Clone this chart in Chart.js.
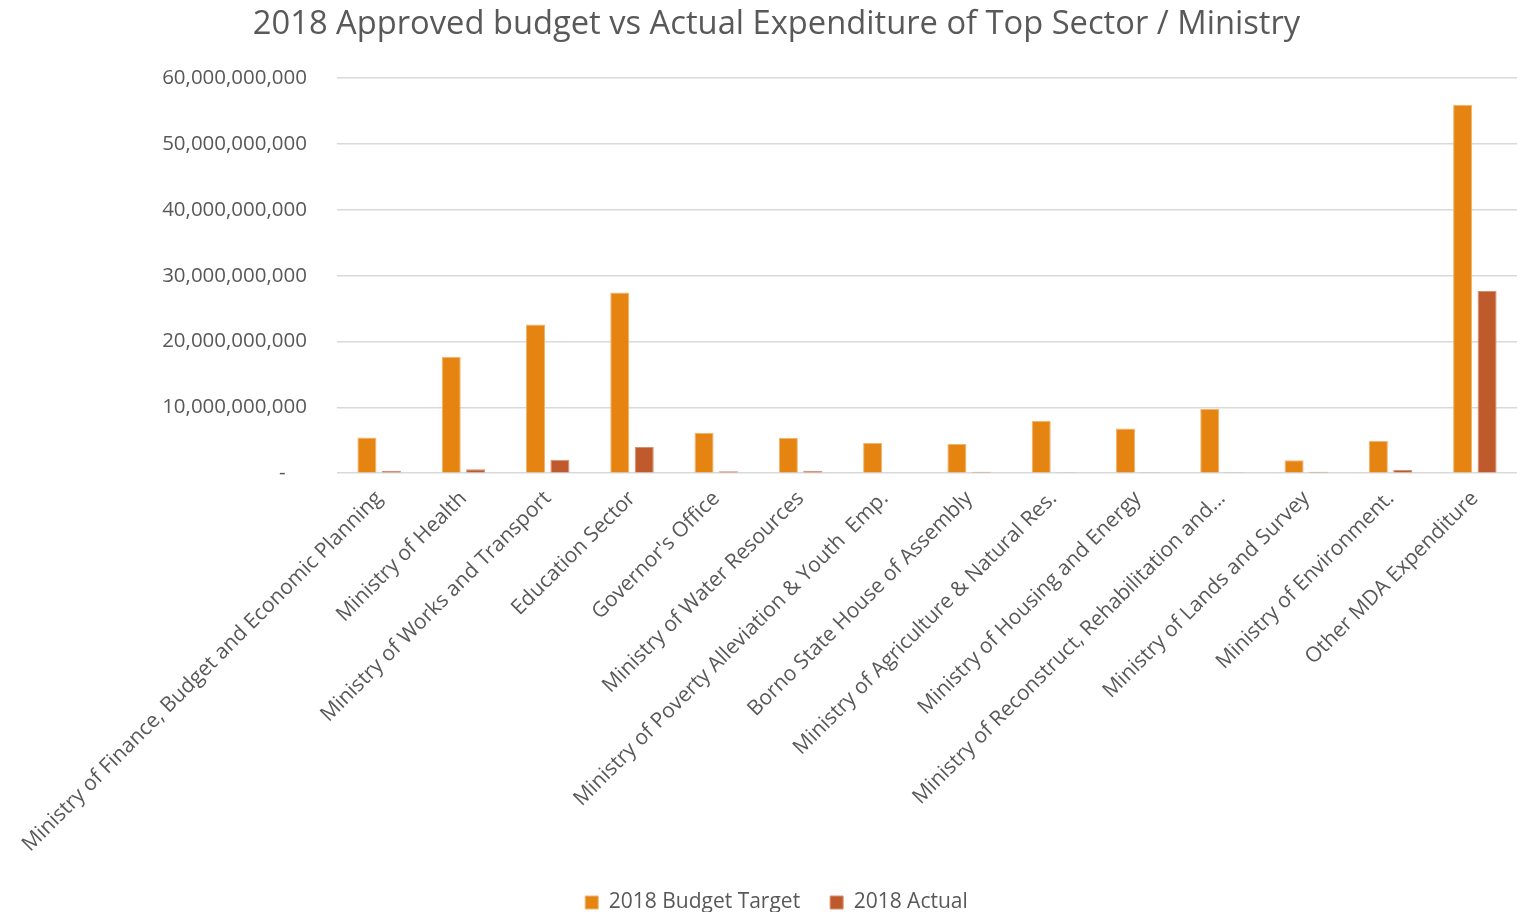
<!DOCTYPE html>
<html>
<head>
<meta charset="utf-8">
<script src="https://cdn.jsdelivr.net/npm/chart.js@4"></script>
<style>
  html, body { margin: 0; padding: 0; background: #fff; }
  #wrap { width: 1518px; height: 912px; }
</style>
</head>
<body>
<div id="wrap"><canvas id="chart"></canvas></div>
<script>
const sectors = [
  "Ministry of Finance, Budget and Economic Planning",
  "Ministry of Health",
  "Ministry of Works and Transport",
  "Education Sector",
  "Governor's Office",
  "Ministry of Water Resources",
  "Ministry of Poverty Alleviation & Youth  Emp.",
  "Borno State House of Assembly",
  "Ministry of Agriculture & Natural Res.",
  "Ministry of Housing and Energy",
  "Ministry of Reconstruct, Rehabilitation and...",
  "Ministry of Lands and Survey",
  "Ministry of Environment.",
  "Other MDA Expenditure"
];

const budgetTarget = [
  5430000000, 17660000000, 22600000000, 27450000000, 6130000000,
  5370000000, 4600000000, 4450000000, 7960000000, 6800000000,
  9740000000, 1980000000, 4870000000, 55970000000
];

const actual2018 = [
  370000000, 600000000, 2040000000, 3960000000, 300000000,
  350000000, 0, 200000000, 150000000, 150000000,
  150000000, 200000000, 500000000, 27660000000
];

const yTickValues = [0, 10000000000, 20000000000, 30000000000, 40000000000, 50000000000, 60000000000];

const textColor = "#595959";
const fontFamily = "'Open Sans', sans-serif";

const fmt = new Intl.NumberFormat("en-US");

new Chart(document.getElementById("chart"), {
  type: "bar",
  data: {
    labels: sectors,
    datasets: [
      {
        label: "2018 Budget Target",
        data: budgetTarget,
        backgroundColor: "#E58411",
        borderColor: "#F2B470",
        borderWidth: 1,
        categoryPercentage: 0.58,
        barPercentage: 0.78
      },
      {
        label: "2018 Actual",
        data: actual2018,
        backgroundColor: "#BF5A2D",
        borderColor: "#D98F6E",
        borderWidth: 1,
        categoryPercentage: 0.58,
        barPercentage: 0.78
      }
    ]
  },
  options: {
    responsive: true,
    maintainAspectRatio: false,
    animation: false,
    layout: {
      // legend reserves space below its text; negative bottom pushes it down
      padding: { left: 36, right: 1, top: 2, bottom: -11 }
    },
    plugins: {
      title: {
        display: true,
        text: "2018 Approved budget vs Actual Expenditure of Top Sector / Ministry",
        color: textColor,
        font: { family: fontFamily, size: 32.7, weight: "normal" },
        padding: { top: 3, bottom: 34 }
      },
      legend: {
        position: "bottom",
        labels: {
          color: textColor,
          font: { family: fontFamily, size: 21 },
          boxWidth: 13,
          boxHeight: 13,
          padding: 30
        }
      },
      tooltip: { enabled: false }
    },
    scales: {
      x: {
        grid: { display: false },
        border: { display: false },
        ticks: {
          color: textColor,
          font: { family: fontFamily, size: 21 },
          maxRotation: 45,
          minRotation: 45,
          autoSkip: false,
          padding: 5
        }
      },
      y: {
        min: 0,
        max: 60000000000,
        afterBuildTicks: (axis) => {
          axis.ticks = yTickValues.map(v => ({ value: v }));
        },
        // fixed axis width keeps the plot starting at x = 337
        afterFit: (axis) => {
          axis.width = 301;
        },
        grid: {
          color: "#D9D9D9",
          lineWidth: 1.5,
          drawTicks: false
        },
        border: { display: false },
        ticks: {
          color: textColor,
          font: { family: fontFamily, size: 20.5 },
          padding: 30,
          callback: (v) => v === 0 ? "-    " : fmt.format(v)
        }
      }
    }
  }
});
</script>
</body>
</html>
